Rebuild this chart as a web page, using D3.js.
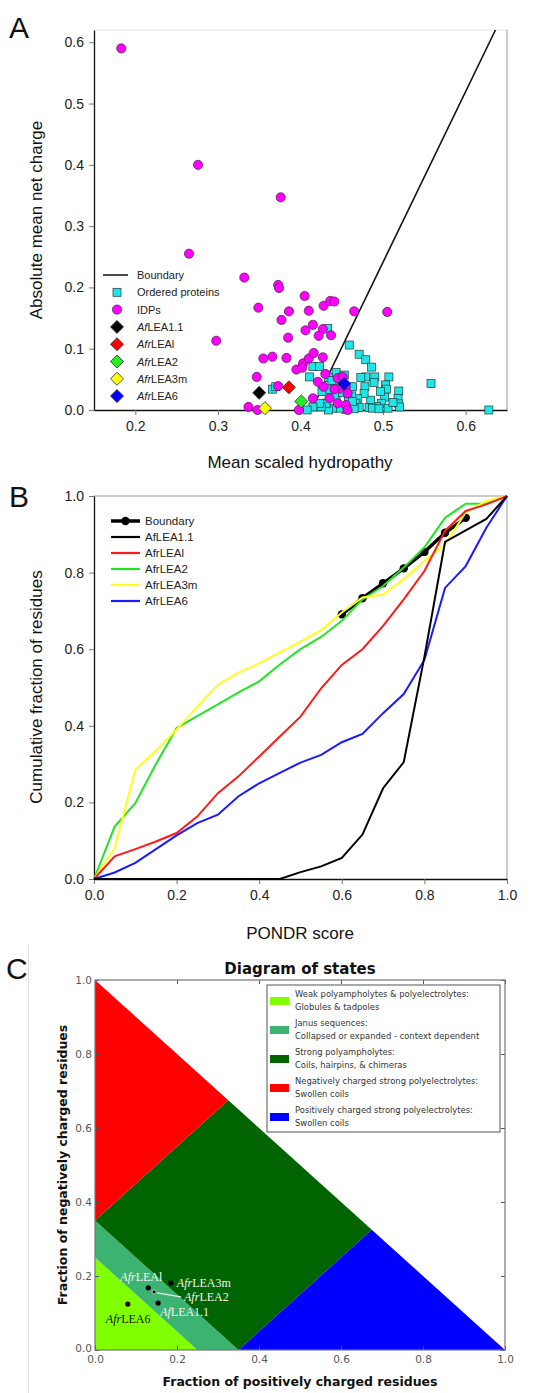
<!DOCTYPE html>
<html>
<head>
<meta charset="utf-8">
<script src="https://cdn.jsdelivr.net/npm/d3@7"></script>
<style>
    body { margin: 0; background: #fff; }
    svg { display: block; font-family: "Liberation Sans", Arial, sans-serif; }
</style>
</head>
<body>
<svg width="550" height="1393"></svg>
<script>
// ---- panel A: charge / hydropathy ----
const orderedProteins = [
    [0.366, 0.034], [0.370, 0.038], [0.433, 0.133], [0.459, 0.106],
    [0.471, 0.091], [0.479, 0.082], [0.486, 0.070], [0.490, 0.054], [0.507, 0.054], [0.503, 0.041],
    [0.504, 0.034], [0.519, 0.031], [0.518, 0.019], [0.519, 0.010], [0.502, 0.021], [0.498, 0.011],
    [0.492, 0.006], [0.485, 0.016], [0.483, 0.004], [0.479, 0.054], [0.473, 0.053], [0.478, 0.038],
    [0.477, 0.027], [0.469, 0.019], [0.467, 0.011], [0.471, 0.004], [0.463, 0.038], [0.462, 0.023],
    [0.458, 0.015], [0.455, 0.001], [0.447, 0.003], [0.443, 0.022], [0.439, 0.003], [0.434, 0.000],
    [0.431, 0.011], [0.425, 0.005], [0.423, 0.011], [0.415, 0.005], [0.408, 0.000], [0.441, 0.041],
    [0.443, 0.061], [0.453, 0.057], [0.434, 0.053], [0.435, 0.033], [0.415, 0.071], [0.423, 0.071],
    [0.411, 0.054], [0.506, 0.003], [0.487, 0.003], [0.520, 0.005], [0.495, 0.002], [0.465, 0.002],
    [0.558, 0.043], [0.628, 0.000], [0.489, 0.045], [0.512, 0.012], [0.451, 0.028], [0.463, 0.014],
    [0.497, 0.030], [0.426, 0.030], [0.438, 0.048]
];
const idps = [
    [0.183, 0.590], [0.276, 0.400], [0.376, 0.347], [0.265, 0.255], [0.332, 0.216], [0.373, 0.204],
    [0.374, 0.199], [0.349, 0.167], [0.405, 0.186], [0.298, 0.113], [0.386, 0.161], [0.377, 0.147],
    [0.410, 0.162], [0.428, 0.170], [0.436, 0.178], [0.441, 0.177], [0.465, 0.161], [0.505, 0.160],
    [0.415, 0.139], [0.406, 0.130], [0.427, 0.132], [0.422, 0.121], [0.437, 0.122], [0.385, 0.118],
    [0.355, 0.084], [0.366, 0.087], [0.383, 0.085], [0.395, 0.066], [0.403, 0.076], [0.410, 0.084],
    [0.416, 0.093], [0.402, 0.069], [0.427, 0.086], [0.347, 0.054], [0.373, 0.039], [0.337, 0.005],
    [0.348, 0.000], [0.398, 0.000], [0.415, 0.019], [0.428, 0.038], [0.430, 0.059], [0.435, 0.019],
    [0.445, 0.011], [0.447, 0.035], [0.455, 0.038], [0.457, 0.027], [0.455, 0.008], [0.457, 0.000],
    [0.441, 0.034], [0.421, 0.046], [0.445, 0.052], [0.451, 0.054]
];
const leaNames = ["LEA1.1", "LEAl", "LEA2", "LEA3m", "LEA6"];
const leaPrefix = ["Af", "Afr", "Afr", "Afr", "Afr"];
const leaColors = ["#000000", "#ff0000", "#22ee22", "#ffff00", "#0000ff"];
const leaHydropathy = [0.350, 0.386, 0.401, 0.357, 0.453];
const leaNetCharge = [0.028, 0.037, 0.014, 0.003, 0.043];
const boundaryHydropathy = [0.4133, 0.636];   // <R> = 2.785<H> - 1.151
const boundaryCharge = [0.0, 0.62];
const hydroTicks = [0.2, 0.3, 0.4, 0.5, 0.6];
const chargeTicks = [0.0, 0.1, 0.2, 0.3, 0.4, 0.5, 0.6];

// ---- panel B: cumulative PONDR ----
const pondrScore = [0, 0.05, 0.1, 0.15, 0.2, 0.25, 0.3, 0.35, 0.4, 0.45, 0.5,
    0.55, 0.6, 0.65, 0.7, 0.75, 0.8, 0.85, 0.9, 0.95, 1.0];
const cumAfLEA11 = [0, 0, 0, 0, 0, 0, 0, 0, 0, 0, 0.018, 0.033, 0.055, 0.116, 0.237, 0.305, 0.58, 0.88, 0.91, 0.94, 1.0];
const cumAfrLEAl = [0, 0.059, 0.078, 0.098, 0.12, 0.163, 0.224, 0.268, 0.32, 0.372, 0.424, 0.498, 0.559, 0.60, 0.661, 0.73, 0.804, 0.909, 0.961, 0.978, 1.0];
const cumAfrLEA2 = [0, 0.137, 0.198, 0.30, 0.394, 0.425, 0.456, 0.487, 0.516, 0.56, 0.60, 0.632, 0.674, 0.73, 0.765, 0.813, 0.866, 0.943, 0.98, 0.98, 1.0];
const cumAfrLEA3m = [0, 0.081, 0.285, 0.335, 0.39, 0.45, 0.507, 0.539, 0.563, 0.592, 0.62, 0.65, 0.696, 0.735, 0.743, 0.783, 0.83, 0.874, 0.957, 0.987, 1.0];
const cumAfrLEA6 = [0, 0.017, 0.042, 0.078, 0.114, 0.146, 0.168, 0.216, 0.25, 0.277, 0.304, 0.324, 0.357, 0.379, 0.433, 0.483, 0.572, 0.76, 0.817, 0.917, 1.0];
const boundaryScore = [0.6, 0.65, 0.7, 0.75, 0.8, 0.85, 0.9];
const boundaryCum = [0.691, 0.733, 0.772, 0.811, 0.854, 0.904, 0.943];
const pondrNames = ["AfLEA1.1", "AfrLEAl", "AfrLEA2", "AfrLEA3m", "AfrLEA6"];
const pondrColors = ["#000000", "#ff1a1a", "#22e622", "#ffff1a", "#1a1aff"];
const unitTicks = [0, 0.2, 0.4, 0.6, 0.8, 1.0];

// ---- panel C: diagram of states ----
const stateNames = [
    ["Weak polyampholytes & polyelectrolytes:", "Globules & tadpoles"],
    ["Janus sequences:", "Collapsed or expanded - context dependent"],
    ["Strong polyampholytes:", "Coils, hairpins, & chimeras"],
    ["Negatively charged strong polyelectrolytes:", "Swollen coils"],
    ["Positively charged strong polyelectrolytes:", "Swollen coils"]
];
const stateColors = ["#7fff00", "#3cb371", "#006400", "#ff0000", "#0000ff"];
const stateRegions = [
    [[0, 0], [0.25, 0], [0, 0.25]],
    [[0.25, 0], [0.35, 0], [0, 0.35], [0, 0.25]],
    [[0.35, 0], [0.675, 0.325], [0.325, 0.675], [0, 0.35]],
    [[0, 0.35], [0.325, 0.675], [0, 1]],
    [[0.35, 0], [1, 0], [0.675, 0.325]]
];
const dosNames = ["LEAl", "LEA3m", "LEA2", "LEA1.1", "LEA6"];
const dosPrefix = ["Afr", "Afr", "Afr", "Af", "Afr"];
const dosPositive = [0.130, 0.185, 0.144, 0.154, 0.080];
const dosNegative = [0.168, 0.181, 0.157, 0.127, 0.124];

const svg = d3.select("svg");
const dejavu = "DejaVu Sans, Verdana, sans-serif";

function panelLetter(txt, x, y) {
    svg.append("text").attr("x", x).attr("y", y)
        .attr("font-size", 30).attr("fill", "#111").text(txt);
}

// ================= A =================
const xA = d3.scaleLinear().domain([0.15, 0.65]).range([94, 507]);
const yA = d3.scaleLinear().domain([0, 0.62]).range([410, 30]);
const gA = svg.append("g");

gA.append("line").attr("x1", 94).attr("x2", 507).attr("y1", 30).attr("y2", 30).attr("stroke", "#e4e4e4");
gA.append("line").attr("x1", 507).attr("x2", 507).attr("y1", 30).attr("y2", 410).attr("stroke", "#999");

function styleAxis(g, size) {
    g.select(".domain").attr("stroke", "#111").attr("stroke-width", 1.3);
    g.selectAll(".tick line").attr("stroke", "#777");
    g.selectAll(".tick text").attr("font-size", size).attr("fill", "#222")
        .attr("font-family", "Liberation Sans, Arial, sans-serif");
}

gA.append("g").attr("transform", "translate(0,410)")
    .call(d3.axisBottom(xA).tickValues(hydroTicks).tickFormat(d3.format(".1f")).tickSize(5).tickSizeOuter(0).tickPadding(6))
    .call(g => styleAxis(g, 14));
gA.append("g").attr("transform", "translate(94,0)")
    .call(d3.axisLeft(yA).tickValues(chargeTicks).tickFormat(d3.format(".1f")).tickSize(5).tickSizeOuter(0).tickPadding(5))
    .call(g => styleAxis(g, 14));

gA.append("line")
    .attr("x1", xA(boundaryHydropathy[0])).attr("y1", yA(boundaryCharge[0]))
    .attr("x2", xA(boundaryHydropathy[1])).attr("y2", yA(boundaryCharge[1]))
    .attr("stroke", "#111").attr("stroke-width", 1.6);

gA.append("g").selectAll("rect").data(orderedProteins).join("rect")
    .attr("x", d => xA(d[0]) - 4).attr("y", d => yA(d[1]) - 4)
    .attr("width", 8).attr("height", 8)
    .attr("fill", "#1ee6e6").attr("stroke", "#1d3b3b").attr("stroke-width", 0.7);

gA.append("g").selectAll("circle").data(idps).join("circle")
    .attr("cx", d => xA(d[0])).attr("cy", d => yA(d[1])).attr("r", 4.6)
    .attr("fill", "#ff00ff").attr("stroke", "#4a1a4a").attr("stroke-width", 0.7);

const diamond = d3.symbol().type(d3.symbolSquare).size(85);
gA.append("g").selectAll("path").data(leaNames).join("path")
    .attr("d", diamond)
    .attr("transform", (d, i) => `translate(${xA(leaHydropathy[i])},${yA(leaNetCharge[i])}) rotate(45)`)
    .attr("fill", (d, i) => leaColors[i]).attr("stroke", "#333").attr("stroke-width", 0.8);

gA.append("text").attr("transform", "translate(42,220) rotate(-90)")
    .attr("text-anchor", "middle").attr("font-size", 17).attr("fill", "#111")
    .text("Absolute mean net charge");
gA.append("text").attr("x", 300).attr("y", 468)
    .attr("text-anchor", "middle").attr("font-size", 17).attr("fill", "#111")
    .text("Mean scaled hydropathy");

// legend A
const legA = gA.append("g").attr("transform", "translate(103,275)");
const rowA = 17.3;
legA.append("line").attr("x1", 0).attr("x2", 25).attr("y1", 0).attr("y2", 0).attr("stroke", "#111").attr("stroke-width", 1.5);
legA.append("rect").attr("x", 10).attr("y", rowA - 4).attr("width", 8).attr("height", 8)
    .attr("fill", "#1ee6e6").attr("stroke", "#1d3b3b").attr("stroke-width", 0.7);
legA.append("circle").attr("cx", 14).attr("cy", rowA * 2).attr("r", 4.6)
    .attr("fill", "#ff00ff").attr("stroke", "#4a1a4a").attr("stroke-width", 0.7);
legA.selectAll("path").data(leaNames).join("path")
    .attr("d", diamond)
    .attr("transform", (d, i) => `translate(14,${rowA * (i + 3)}) rotate(45)`)
    .attr("fill", (d, i) => leaColors[i]).attr("stroke", "#333").attr("stroke-width", 0.8);
const legAText = ["Boundary", "Ordered proteins", "IDPs"];
legA.selectAll("text.plain").data(legAText).join("text").attr("class", "plain")
    .attr("x", 34).attr("y", (d, i) => rowA * i + 4).attr("font-size", 11).attr("fill", "#222")
    .text(d => d);
legA.selectAll("text.lea").data(leaNames).join("text").attr("class", "lea")
    .attr("x", 34).attr("y", (d, i) => rowA * (i + 3) + 4).attr("font-size", 11).attr("fill", "#222")
    .each(function (d, i) {
        const t = d3.select(this);
        t.append("tspan").attr("font-style", "italic").text(leaPrefix[i]);
        t.append("tspan").text(d);
    });

panelLetter("A", 9, 38);

// ================= B =================
const xB = d3.scaleLinear().domain([0, 1]).range([94, 507]);
const yB = d3.scaleLinear().domain([0, 1]).range([879, 496]);
const gB = svg.append("g");

gB.append("line").attr("x1", 94).attr("x2", 507).attr("y1", 496).attr("y2", 496).attr("stroke", "#999");
gB.append("line").attr("x1", 507).attr("x2", 507).attr("y1", 496).attr("y2", 879).attr("stroke", "#999");

gB.append("g").attr("transform", "translate(0,879)")
    .call(d3.axisBottom(xB).tickValues(unitTicks).tickFormat(d3.format(".1f")).tickSize(5).tickSizeOuter(0).tickPadding(6))
    .call(g => styleAxis(g, 14));
gB.append("g").attr("transform", "translate(94,0)")
    .call(d3.axisLeft(yB).tickValues(unitTicks).tickFormat(d3.format(".1f")).tickSize(5).tickSizeOuter(0).tickPadding(5))
    .call(g => styleAxis(g, 14));

const lineB = d3.line().x(d => xB(d[0])).y(d => yB(d[1]));
const pondrSeries = [cumAfLEA11, cumAfrLEAl, cumAfrLEA2, cumAfrLEA3m, cumAfrLEA6];
const drawOrder = [2, 3, 1, 4, 0];

const boundaryPts = boundaryScore.map((s, i) => [s, boundaryCum[i]]);
gB.append("path").datum(boundaryPts).attr("d", lineB)
    .attr("fill", "none").attr("stroke", "#000").attr("stroke-width", 3.5);
gB.append("g").selectAll("circle").data(boundaryPts).join("circle")
    .attr("cx", d => xB(d[0])).attr("cy", d => yB(d[1])).attr("r", 4.2).attr("fill", "#000");

drawOrder.forEach(i => {
    gB.append("path").datum(pondrScore.map((s, k) => [s, pondrSeries[i][k]]))
        .attr("d", lineB).attr("fill", "none")
        .attr("stroke", pondrColors[i]).attr("stroke-width", 2);
});

gB.append("text").attr("transform", "translate(42,687) rotate(-90)")
    .attr("text-anchor", "middle").attr("font-size", 17).attr("fill", "#111")
    .text("Cumulative fraction of residues");
gB.append("text").attr("x", 300).attr("y", 939)
    .attr("text-anchor", "middle").attr("font-size", 17).attr("fill", "#111")
    .text("PONDR score");

// legend B
const legB = gB.append("g").attr("transform", "translate(111,521)");
const rowB = 16;
legB.append("line").attr("x1", 0).attr("x2", 29).attr("y1", 0).attr("y2", 0).attr("stroke", "#000").attr("stroke-width", 3.5);
legB.append("circle").attr("cx", 14.5).attr("cy", 0).attr("r", 4.2).attr("fill", "#000");
legB.selectAll("line.s").data(pondrNames).join("line").attr("class", "s")
    .attr("x1", 0).attr("x2", 29).attr("y1", (d, i) => rowB * (i + 1)).attr("y2", (d, i) => rowB * (i + 1))
    .attr("stroke", (d, i) => pondrColors[i]).attr("stroke-width", 2.2);
legB.selectAll("text").data(["Boundary"].concat(pondrNames)).join("text")
    .attr("x", 34).attr("y", (d, i) => rowB * i + 4).attr("font-size", 11.5).attr("fill", "#222")
    .text(d => d);

panelLetter("B", 9, 507);

// ================= C =================
const xC = d3.scaleLinear().domain([0, 1]).range([95, 505]);
const yC = d3.scaleLinear().domain([0, 1]).range([1350, 980]);
const gC = svg.append("g");

svg.append("line").attr("x1", 28.5).attr("x2", 28.5).attr("y1", 945).attr("y2", 1393)
    .attr("stroke", "#e2e2e2");

gC.append("g").selectAll("polygon").data(stateRegions).join("polygon")
    .attr("points", d => d.map(p => [xC(p[0]), yC(p[1])].join(",")).join(" "))
    .attr("fill", (d, i) => stateColors[i]);

function styleC(g) {
    g.select(".domain").remove();
    g.selectAll(".tick line").attr("stroke", "#555");
    g.selectAll(".tick text").attr("font-size", 10.5).attr("fill", "#555")
        .attr("font-family", dejavu);
}
gC.append("g").attr("transform", "translate(0,1350)")
    .call(d3.axisBottom(xC).tickValues(unitTicks).tickFormat(d3.format(".1f")).tickSize(-4).tickPadding(6))
    .call(styleC);
gC.append("g").attr("transform", "translate(0,980)")
    .call(d3.axisTop(xC).tickValues(unitTicks).tickFormat("").tickSize(-4))
    .call(styleC);
gC.append("g").attr("transform", "translate(95,0)")
    .call(d3.axisLeft(yC).tickValues(unitTicks).tickFormat(d3.format(".1f")).tickSize(-4).tickPadding(3))
    .call(styleC)
    .call(g => g.selectAll(".tick text").filter(d => d === 0).attr("dy", "0.1em"));
gC.append("g").attr("transform", "translate(505,0)")
    .call(d3.axisRight(yC).tickValues(unitTicks).tickFormat("").tickSize(-4))
    .call(styleC);
gC.append("rect").attr("x", 95).attr("y", 980).attr("width", 410).attr("height", 370)
    .attr("fill", "none").attr("stroke", "#777").attr("stroke-width", 1.2);

// points + labels
const dosPts = dosNames.map((d, i) => [xC(dosPositive[i]), yC(dosNegative[i])]);
const labelOffset = [[-28, -7], [6, 4], [30, 9], [2, 13], [-22, 19]];
gC.append("line")
    .attr("x1", dosPts[2][0] + 3).attr("y1", dosPts[2][1] + 1)
    .attr("x2", dosPts[2][0] + 27).attr("y2", dosPts[2][1] + 5)
    .attr("stroke", "#eee").attr("stroke-width", 1.2);
gC.append("g").selectAll("circle").data(dosPts).join("circle")
    .attr("cx", d => d[0]).attr("cy", d => d[1]).attr("r", (d, i) => i === 2 ? 2 : 2.6)
    .attr("fill", "#000").attr("stroke", (d, i) => i === 2 ? "#ddd" : "none").attr("stroke-width", 0.8);
gC.append("g").selectAll("text").data(dosNames).join("text")
    .attr("x", (d, i) => dosPts[i][0] + labelOffset[i][0])
    .attr("y", (d, i) => dosPts[i][1] + labelOffset[i][1])
    .attr("font-family", "Liberation Serif, Times New Roman, serif").attr("font-size", 12)
    .attr("fill", (d, i) => i === 4 ? "#111" : "#f4f4f4")
    .each(function (d, i) {
        const t = d3.select(this);
        t.append("tspan").attr("font-style", "italic").text(dosPrefix[i]);
        t.append("tspan").text(d);
    });

// legend C
const legC = gC.append("g").attr("transform", "translate(267,985)");
legC.append("rect").attr("x", 0).attr("y", 0).attr("width", 233).attr("height", 147)
    .attr("fill", "#fff").attr("stroke", "#555").attr("stroke-width", 1);
const rowC = 29;
legC.selectAll("rect.p").data(stateNames).join("rect").attr("class", "p")
    .attr("x", 3).attr("y", (d, i) => 12 + rowC * i).attr("width", 19).attr("height", 8)
    .attr("fill", (d, i) => stateColors[i]);
legC.selectAll("text").data(stateNames).join("text")
    .attr("x", 28).attr("y", (d, i) => 12 + rowC * i)
    .attr("font-family", dejavu).attr("font-size", 8.4).attr("fill", "#333")
    .each(function (d) {
        const t = d3.select(this);
        t.append("tspan").attr("x", 28).attr("dy", 0).text(d[0]);
        t.append("tspan").attr("x", 28).attr("dy", 12.5).text(d[1]);
    });

gC.append("text").attr("x", 300).attr("y", 974)
    .attr("text-anchor", "middle").attr("font-family", dejavu)
    .attr("font-weight", "bold").attr("font-size", 15).attr("fill", "#111")
    .text("Diagram of states");
gC.append("text").attr("transform", "translate(67,1165) rotate(-90)")
    .attr("text-anchor", "middle").attr("font-family", dejavu)
    .attr("font-weight", "bold").attr("font-size", 12.5).attr("fill", "#111")
    .text("Fraction of negatively charged residues");
gC.append("text").attr("x", 300).attr("y", 1386)
    .attr("text-anchor", "middle").attr("font-family", dejavu)
    .attr("font-weight", "bold").attr("font-size", 12.5).attr("fill", "#111")
    .text("Fraction of positively charged residues");

svg.append("text").attr("x", 6).attr("y", 979)
    .attr("font-size", 30).attr("fill", "#111").text("C");
</script>
</body>
</html>
